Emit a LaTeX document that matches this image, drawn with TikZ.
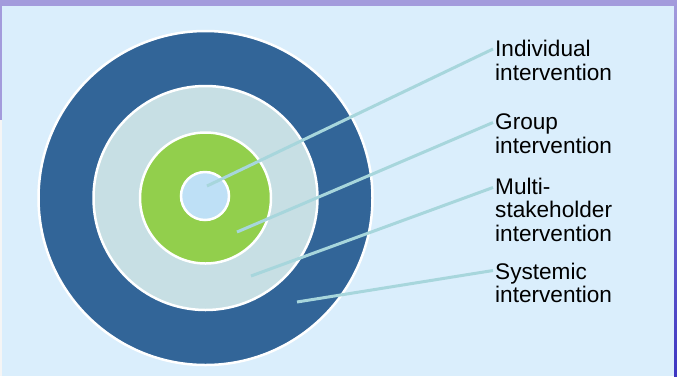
\documentclass[tikz,border=0pt]{standalone}
\usepackage{fontspec}
\setmainfont{Liberation Sans}
\usepackage{xcolor}
\definecolor{slidetop}{HTML}{A39BDC}
\definecolor{slideright}{HTML}{3D36C2}
\definecolor{panel}{HTML}{DAEEFC}
\definecolor{systemblue}{HTML}{326598}
\definecolor{multiring}{HTML}{C7DFE4}
\definecolor{groupgreen}{HTML}{92CF4C}
\definecolor{indivblue}{HTML}{BEE0F6}
\definecolor{pointer}{HTML}{A7D6DC}

\begin{document}
\begin{tikzpicture}[x=1pt,y=-1pt,
  ring/.style={circle, draw=white, line width=2.5pt, inner sep=0pt},
  lbl/.style={anchor=north west, align=left, inner sep=0pt,
    font=\fontsize{22.6}{23.6}\selectfont},
  pointer/.style={draw=pointer, line width=3pt}]
  % slide and panel
  \fill[slidetop] (0,0) rectangle (677,376);
  \fill[top color=slidetop, bottom color=slideright] (674,0) rectangle (677,376);
  \fill[white!92!gray] (0,120) rectangle (2,376);
  \fill[panel] (2,6) rectangle (674,376);
  \useasboundingbox (0,0) rectangle (677,376);

  % the rings
  \coordinate (c) at (205.5,198);
  \node[ring, fill=systemblue, minimum size=334pt] (sys) at (c) {};
  \node[ring, fill=multiring, minimum size=224pt] (multi) at (c) {};
  \node[ring, fill=groupgreen, minimum size=131pt] (grp) at (c) {};
  \node[ring, fill=indivblue, minimum size=48pt] (ind) at (205,196) {};

  % labels
  \node[lbl] (lind) at (495,40) {Individual\\intervention};
  \node[lbl] (lgrp) at (495,113.5) {Group\\intervention};
  \node[lbl] (lmulti) at (495,177.5) {Multi-\\stakeholder\\intervention};
  \node[lbl] (lsys) at (495,262.5) {Systemic\\intervention};

  % pointers
  \coordinate (pind) at (207,186);
  \coordinate (pgrp) at (237,232);
  \coordinate (pmulti) at (251,276);
  \coordinate (psys) at (297,302);
  \draw[pointer] (pind) -- ([shift={(-2,9)}]lind.north west);
  \draw[pointer] (pgrp) -- ([shift={(-2,9)}]lgrp.north west);
  \draw[pointer] (pmulti) -- ([shift={(-2,10)}]lmulti.north west);
  \draw[pointer] (psys) -- ([shift={(-2,8)}]lsys.north west);
\end{tikzpicture}
\end{document}
